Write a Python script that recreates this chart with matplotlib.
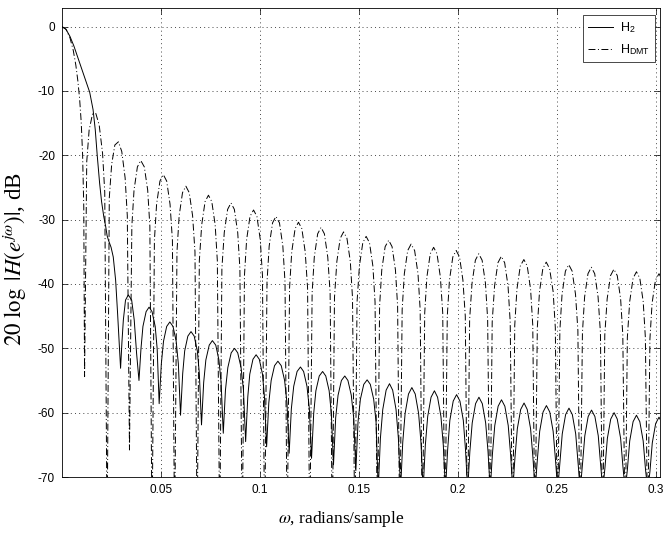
import matplotlib
matplotlib.use('Agg')
import matplotlib.pyplot as plt

# frequency response (one lobe per line)
# H_2 : solid line
h2_w = [0.0, 0.0020, 0.0040, 0.0060, 0.0080, 0.0100, 0.0120, 0.0140, 0.0157, 0.0168, 0.0178,
        0.0190, 0.0200, 0.0211, 0.0221, 0.0228, 0.0236, 0.0248, 0.0259, 0.0271, 0.0281, 0.0290,
        0.0296, 0.0303, 0.0310, 0.0321, 0.0335, 0.0352, 0.0365, 0.0377,
        0.0389, 0.0399, 0.0409, 0.0425, 0.0440, 0.0455, 0.0471, 0.0481,
        0.0491, 0.0502, 0.0513, 0.0529, 0.0545, 0.0561, 0.0577, 0.0588,
        0.0599, 0.0610, 0.0620, 0.0636, 0.0652, 0.0668, 0.0684, 0.0694,
        0.0705, 0.0716, 0.0727, 0.0744, 0.0760, 0.0777, 0.0793, 0.0804,
        0.0815, 0.0826, 0.0838, 0.0855, 0.0872, 0.0888, 0.0905, 0.0917,
        0.0928, 0.0939, 0.0949, 0.0965, 0.0981, 0.0997, 0.1013, 0.1023,
        0.1034, 0.1045, 0.1057, 0.1074, 0.1091, 0.1108, 0.1125, 0.1137,
        0.1148, 0.1159, 0.1171, 0.1188, 0.1205, 0.1221, 0.1238, 0.1250,
        0.1261, 0.1272, 0.1283, 0.1300, 0.1317, 0.1333, 0.1350, 0.1361,
        0.1372, 0.1383, 0.1395, 0.1412, 0.1429, 0.1445, 0.1462, 0.1474,
        0.1485, 0.1496, 0.1508, 0.1525, 0.1542, 0.1558, 0.1575, 0.1587,
        0.1598, 0.1609, 0.1621, 0.1638, 0.1655, 0.1671, 0.1688, 0.1700,
        0.1711, 0.1722, 0.1734, 0.1751, 0.1768, 0.1785, 0.1802, 0.1814,
        0.1825, 0.1836, 0.1848, 0.1865, 0.1882, 0.1898, 0.1915, 0.1927,
        0.1938, 0.1949, 0.1960, 0.1977, 0.1994, 0.2011, 0.2028, 0.2039,
        0.2050, 0.2061, 0.2073, 0.2090, 0.2107, 0.2124, 0.2141, 0.2153,
        0.2164, 0.2175, 0.2187, 0.2204, 0.2221, 0.2238, 0.2255, 0.2267,
        0.2278, 0.2289, 0.2301, 0.2318, 0.2335, 0.2351, 0.2368, 0.2380,
        0.2391, 0.2402, 0.2414, 0.2431, 0.2448, 0.2465, 0.2482, 0.2494,
        0.2505, 0.2516, 0.2528, 0.2545, 0.2562, 0.2579, 0.2596, 0.2608,
        0.2619, 0.2630, 0.2642, 0.2659, 0.2676, 0.2693, 0.2710, 0.2722,
        0.2733, 0.2744, 0.2756, 0.2773, 0.2790, 0.2806, 0.2823, 0.2835,
        0.2846, 0.2857, 0.2869, 0.2886, 0.2903, 0.2920, 0.2937, 0.2949,
        0.2960, 0.2971, 0.2983, 0.3000, 0.3017, 0.3034]
h2_db = [0.0, -0.4, -1.5, -3.0, -4.8, -6.6, -8.4, -10.2, -12.9, -16.0, -20.0,
         -24.3, -27.2, -29.5, -31.1, -32.5, -33.3, -34.3, -35.8, -39.4, -44.6, -49.8,
         -53.1, -49.0, -45.6, -42.5, -41.7, -42.5, -45.6, -50.8,
         -55.0, -50.1, -46.6, -44.3, -43.6, -44.3, -46.6, -50.1,
         -58.6, -52.4, -48.9, -46.6, -45.9, -46.6, -48.9, -52.4,
         -60.4, -53.9, -50.4, -48.1, -47.4, -48.1, -50.4, -53.9,
         -61.9, -55.3, -51.8, -49.5, -48.8, -49.5, -51.8, -55.3,
         -63.2, -56.5, -53.0, -50.7, -50.0, -50.7, -53.0, -56.5,
         -64.5, -57.5, -54.0, -51.7, -51.0, -51.7, -54.0, -57.5,
         -65.3, -58.5, -55.0, -52.7, -52.0, -52.7, -55.0, -58.5,
         -66.3, -59.4, -55.9, -53.6, -52.9, -53.6, -55.9, -59.4,
         -67.1, -60.1, -56.6, -54.3, -53.6, -54.3, -56.6, -60.1,
         -68.1, -60.8, -57.3, -55.0, -54.3, -55.0, -57.3, -60.8,
         -69.0, -61.4, -57.9, -55.6, -54.9, -55.6, -57.9, -61.4,
         -72.0, -64.0, -59.5, -56.5, -55.5, -56.5, -59.5, -64.0,
         -72.0, -64.6, -60.1, -57.1, -56.1, -57.1, -60.1, -64.6,
         -72.0, -65.1, -60.6, -57.6, -56.6, -57.6, -60.6, -65.1,
         -72.0, -65.7, -61.2, -58.2, -57.2, -58.2, -61.2, -65.7,
         -72.0, -66.1, -61.6, -58.6, -57.6, -58.6, -61.6, -66.1,
         -72.0, -66.5, -62.0, -59.0, -58.0, -59.0, -62.0, -66.5,
         -72.0, -67.0, -62.5, -59.5, -58.5, -59.5, -62.5, -67.0,
         -72.0, -67.4, -62.9, -59.9, -58.9, -59.9, -62.9, -67.4,
         -72.0, -67.8, -63.3, -60.3, -59.3, -60.3, -63.3, -67.8,
         -72.0, -68.1, -63.6, -60.6, -59.6, -60.6, -63.6, -68.1,
         -72.0, -68.5, -64.0, -61.0, -60.0, -61.0, -64.0, -68.5,
         -72.0, -68.9, -64.4, -61.4, -60.4, -61.4, -64.4, -68.9,
         -72.0, -69.2, -64.7, -61.7, -60.7, -61.7]

# H_DMT : dash-dot line
dmt_w = [0.0, 0.0020, 0.0040, 0.0057, 0.0070, 0.0080, 0.0089, 0.0097, 0.0104, 0.0110,
         0.0114, 0.0125, 0.0137, 0.0154, 0.0171, 0.0188, 0.0205, 0.0216,
         0.0228, 0.0239, 0.0251, 0.0267, 0.0285, 0.0302, 0.0319, 0.0330,
         0.0341, 0.0353, 0.0364, 0.0381, 0.0398, 0.0416, 0.0433, 0.0444,
         0.0455, 0.0467, 0.0478, 0.0495, 0.0512, 0.0529, 0.0546, 0.0558,
         0.0569, 0.0581, 0.0592, 0.0609, 0.0626, 0.0643, 0.0660, 0.0672,
         0.0683, 0.0694, 0.0706, 0.0723, 0.0740, 0.0757, 0.0774, 0.0785,
         0.0797, 0.0808, 0.0820, 0.0837, 0.0854, 0.0871, 0.0888, 0.0899,
         0.0911, 0.0922, 0.0933, 0.0950, 0.0968, 0.0985, 0.1002, 0.1013,
         0.1024, 0.1036, 0.1047, 0.1064, 0.1081, 0.1099, 0.1116, 0.1127,
         0.1138, 0.1150, 0.1161, 0.1178, 0.1195, 0.1212, 0.1229, 0.1241,
         0.1252, 0.1264, 0.1275, 0.1292, 0.1309, 0.1326, 0.1343, 0.1355,
         0.1366, 0.1377, 0.1389, 0.1406, 0.1423, 0.1440, 0.1457, 0.1468,
         0.1480, 0.1491, 0.1503, 0.1520, 0.1537, 0.1554, 0.1571, 0.1582,
         0.1594, 0.1605, 0.1616, 0.1633, 0.1651, 0.1668, 0.1685, 0.1696,
         0.1707, 0.1719, 0.1730, 0.1747, 0.1764, 0.1782, 0.1799, 0.1810,
         0.1821, 0.1833, 0.1844, 0.1861, 0.1878, 0.1895, 0.1912, 0.1924,
         0.1935, 0.1947, 0.1958, 0.1975, 0.1992, 0.2009, 0.2026, 0.2038,
         0.2049, 0.2060, 0.2072, 0.2089, 0.2106, 0.2123, 0.2140, 0.2151,
         0.2163, 0.2174, 0.2186, 0.2203, 0.2220, 0.2237, 0.2254, 0.2265,
         0.2277, 0.2288, 0.2299, 0.2316, 0.2334, 0.2351, 0.2368, 0.2379,
         0.2390, 0.2402, 0.2413, 0.2430, 0.2447, 0.2464, 0.2482, 0.2493,
         0.2504, 0.2516, 0.2527, 0.2544, 0.2561, 0.2578, 0.2595, 0.2607,
         0.2618, 0.2630, 0.2641, 0.2658, 0.2675, 0.2692, 0.2709, 0.2721,
         0.2732, 0.2743, 0.2755, 0.2772, 0.2789, 0.2806, 0.2823, 0.2834,
         0.2846, 0.2857, 0.2869, 0.2886, 0.2903, 0.2920, 0.2937, 0.2948,
         0.2960, 0.2971, 0.2982, 0.2999, 0.3017, 0.3034]
dmt_db = [0.0, -0.4, -1.7, -3.7, -6.0, -8.4, -11.2, -14.8, -19.8, -28.0,
          -54.4, -21.0, -16.1, -13.6, -13.5, -15.3, -19.7, -25.7,
          -80.0, -26.6, -21.4, -18.4, -17.9, -19.4, -23.5, -29.4,
          -65.8, -31.0, -25.4, -21.8, -20.8, -21.8, -25.4, -31.0,
          -80.0, -33.2, -27.6, -24.0, -23.0, -24.0, -27.6, -33.2,
          -80.0, -35.0, -29.4, -25.8, -24.8, -25.8, -29.4, -35.0,
          -80.0, -36.4, -30.8, -27.2, -26.2, -27.2, -30.8, -36.4,
          -80.0, -37.6, -32.0, -28.4, -27.4, -28.4, -32.0, -37.6,
          -80.0, -38.7, -33.1, -29.5, -28.5, -29.5, -33.1, -38.7,
          -80.0, -39.7, -34.1, -30.5, -29.5, -30.5, -34.1, -39.7,
          -80.0, -40.6, -35.0, -31.4, -30.4, -31.4, -35.0, -40.6,
          -80.0, -41.4, -35.8, -32.2, -31.2, -32.2, -35.8, -41.4,
          -80.0, -42.1, -36.5, -32.9, -31.9, -32.9, -36.5, -42.1,
          -80.0, -42.8, -37.2, -33.6, -32.6, -33.6, -37.2, -42.8,
          -80.0, -43.4, -37.8, -34.2, -33.2, -34.2, -37.8, -43.4,
          -80.0, -44.0, -38.4, -34.8, -33.8, -34.8, -38.4, -44.0,
          -80.0, -44.5, -38.9, -35.3, -34.3, -35.3, -38.9, -44.5,
          -80.0, -45.0, -39.4, -35.8, -34.8, -35.8, -39.4, -45.0,
          -80.0, -45.5, -39.9, -36.3, -35.3, -36.3, -39.9, -45.5,
          -80.0, -45.9, -40.3, -36.7, -35.7, -36.7, -40.3, -45.9,
          -80.0, -46.4, -40.8, -37.2, -36.2, -37.2, -40.8, -46.4,
          -80.0, -46.8, -41.2, -37.6, -36.6, -37.6, -41.2, -46.8,
          -80.0, -47.2, -41.6, -38.0, -37.0, -38.0, -41.6, -47.2,
          -80.0, -47.6, -42.0, -38.4, -37.4, -38.4, -42.0, -47.6,
          -80.0, -47.9, -42.3, -38.7, -37.7, -38.7, -42.3, -47.9,
          -80.0, -48.3, -42.7, -39.1, -38.1, -39.1, -42.7, -48.3,
          -80.0, -48.6, -43.0, -39.4, -38.4, -39.4]

xticks = [0.05, 0.1, 0.15, 0.2, 0.25, 0.3]
xtick_labels = ['0.05', '0.1', '0.15', '0.2', '0.25', '0.3']
yticks = [-70, -60, -50, -40, -30, -20, -10, 0]

plt.rcParams['font.family'] = 'Liberation Sans'
plt.rcParams['mathtext.fontset'] = 'stix'
plt.rcParams['axes.unicode_minus'] = False
plt.rcParams['lines.scale_dashes'] = False

fig = plt.figure(figsize=(6.65, 5.33), dpi=100)
ax = fig.add_axes([62 / 665, 1 - 477 / 533, 598 / 665, 469 / 533])

ax.plot(h2_w, h2_db, color='k', lw=0.7, label=r'H$_{\mathregular{2}}$')
ax.plot(dmt_w, dmt_db, color='k', lw=0.7, linestyle=(0, (5, 1.8, 0.7, 1.8)),
        label=r'H$_{\mathregular{DMT}}$')

ax.set_xlim(0, 0.3022)
ax.set_ylim(-70, 2.9)
ax.set_xticks(xticks)
ax.set_xticklabels(xtick_labels)
ax.set_yticks(yticks)

ax.grid(True, color='k', lw=0.5, linestyle=(0, (0.7, 2.3)))
ax.tick_params(direction='in', top=True, right=True, length=4, width=0.5,
               labelsize=8.5, pad=5)
for s in ax.spines.values():
    s.set_linewidth(0.6)

ax.set_xlabel(r'$\omega$, radians/sample', family='Liberation Serif', fontsize=12.5)
ax.set_ylabel(r'$20\ \log\ |H(e^{j\omega})|$, dB', family='Liberation Serif', fontsize=16.5)
ax.xaxis.set_label_coords(0.467, -0.068)
ax.yaxis.set_label_coords(-0.056, 0.465)

leg = ax.legend(loc='upper right', bbox_to_anchor=(0.9916, 0.985), borderaxespad=0,
                fancybox=False, edgecolor='k', framealpha=1, fontsize=9,
                handlelength=2.0, handletextpad=0.6, labelspacing=0.6)
leg.get_frame().set_linewidth(0.5)

fig.savefig('out.png', dpi=100)
